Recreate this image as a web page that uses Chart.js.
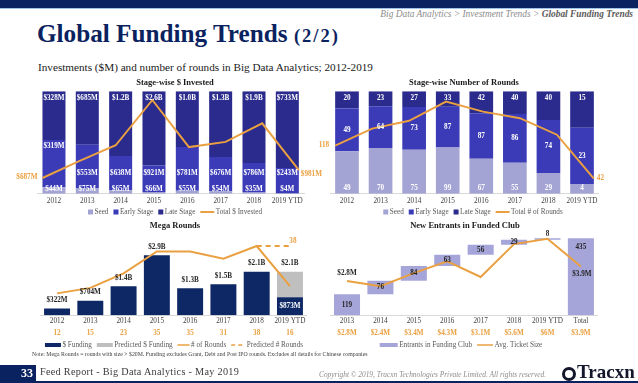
<!DOCTYPE html>
<html><head><meta charset="utf-8">
<script src="https://cdn.jsdelivr.net/npm/chart.js@4.4.1/dist/chart.umd.min.js"></script>
<style>
html,body{margin:0;padding:0;background:#fff;}
body{width:638px;height:383px;position:relative;overflow:hidden;font-family:"Liberation Serif","Times New Roman",serif;}
.abs{position:absolute;white-space:nowrap;}
canvas{position:absolute;}
</style></head><body>
<div class="abs" style="left:0;top:0;width:638px;height:7.5px;background:#0b2260"></div>
<div class="abs" style="left:0;top:7.5px;width:638px;height:1.5px;background:#9dc3e6"></div>
<div class="abs" style="right:5px;top:9px;font-size:9.4px;line-height:11px;font-style:italic;color:#8c8c8c">Big Data Analytics &gt; Investment Trends &gt; <b style="color:#5a5a5a">Global Funding Trends</b></div>
<div class="abs" style="left:37px;top:21px;font-size:25.2px;line-height:25px;font-weight:bold;color:#0b2260">Global Funding Trends <span style="font-size:18.5px;letter-spacing:2px">(2/2)</span></div>
<div class="abs" style="left:38px;top:61px;font-size:11.2px;line-height:13px;color:#1a1a1a">Investments ($M) and number of rounds in Big Data Analytics; 2012-2019</div>

<canvas id="c1" width="350" height="141" style="left:0;top:76px"></canvas>
<canvas id="c2" width="292" height="141" style="left:318px;top:76px"></canvas>
<canvas id="c3" width="350" height="133" style="left:0;top:219px"></canvas>
<canvas id="c4" width="294" height="133" style="left:318px;top:219px"></canvas>

<div class="abs" style="left:32px;top:351px;font-size:5.8px;line-height:7px;color:#404040">Note: Mega Rounds = rounds with size &gt; $20M. Funding excludes Grant, Debt and Post IPO rounds. Excludes all details for Chinese companies</div>

<div class="abs" style="left:0;top:365px;width:36px;height:18px;background:#0b2260"></div>
<div class="abs" style="left:0;top:366px;width:33px;height:15px;line-height:15px;text-align:right;color:#fff;font-weight:bold;font-size:12px">33</div>
<div class="abs" style="left:0;top:381px;width:638px;height:2px;background:#0b2260"></div>
<div class="abs" style="left:40px;top:365px;line-height:14px;font-size:10.2px;letter-spacing:0.3px;color:#3a3a3a">Feed Report - Big Data Analytics - May 2019</div>
<div class="abs" style="left:319px;top:370px;font-size:7.4px;line-height:9px;font-style:italic;color:#8c8c8c">Copyright © 2019, Tracxn Technologies Private Limited. All rights reserved.</div>
<div class="abs" style="left:562px;top:367px;width:8px;height:8px;border:3px solid #14172b;border-radius:50%"></div>
<div class="abs" style="left:577px;top:362px;font-size:19px;line-height:20px;font-weight:bold;color:#14172b">Tracxn</div>

<script>
// ---------- DATA ----------
const years = ['2012', '2013', '2014', '2015', '2016', '2017', '2018', '2019 YTD'];
// Stage-wise $ Invested ($M)
const seedInvested  = [44, 75, 65, 66, 55, 54, 35, 4];
const earlyInvested = [319, 553, 638, 921, 781, 676, 786, 243];
const lateInvested  = [328, 685, 1200, 2600, 1000, 1300, 1900, 733];
const totalInvested = [687, 1313, 1903, 3587, 1836, 2030, 2721, 981];
// Stage-wise Number of Rounds
const seedRounds  = [49, 70, 75, 99, 67, 55, 29, 4];
const earlyRounds = [49, 64, 73, 87, 87, 86, 74, 23];
const lateRounds  = [20, 23, 27, 33, 42, 40, 40, 15];
const totalRounds = [118, 157, 175, 219, 196, 181, 143, 42];
// Mega Rounds
const megaFunding      = [322, 704, 1400, 2900, 1300, 1500, 2100, 873];
const predictedFunding = [null, null, null, null, null, null, null, 2100];
const megaRounds       = [12, 15, 23, 35, 35, 31, 38, 16];
const predictedRounds  = [null, null, null, null, null, null, 38, 38];
// New Entrants in Funded Club
const entrantYears  = ['2013', '2014', '2015', '2016', '2017', '2018', '2019 YTD', 'Total'];
const newEntrants   = [119, 76, 84, 63, 56, 29, 8];
const avgTicketSize = [2.8, 2.4, 3.4, 4.3, 3.1, 5.6, 6, 3.9];

// ---------- STYLE ----------
const FONT = '"Liberation Serif", "Times New Roman", serif';
const C_SEED = '#a3a3d4', C_EARLY = '#3b3bb7', C_LATE = '#2b2b8d';
const C_ORANGE = '#eaa040', C_NAVY = '#0e2866', C_GREY = '#bfbfbf', C_LAV = '#a5a5da';
const C_TXT = '#262626';
Chart.defaults.font.family = FONT;
Chart.defaults.font.size = 7.2;
Chart.defaults.color = '#404040';
Chart.defaults.animation = false;
Chart.defaults.plugins.tooltip.enabled = false;
Chart.defaults.plugins.legend.display = false;

const fmtM = v => v >= 1000 ? '$' + (v / 1000).toFixed(1) + 'B' : '$' + v + 'M';

function sideAxis(pos, width, min, max, stacked) {
  return { type: 'linear', position: pos, min, max, stacked: !!stacked,
    ticks: { display: false }, grid: { display: false, drawTicks: false }, border: { display: false },
    afterFit(s) { s.width = width; } };
}
function catAxis(labels, padding, color, bold, weight, border, stacked) {
  return { type: 'category', labels, offset: true, stacked: !!stacked, weight: weight || 0,
    grid: { display: false, drawTicks: false },
    border: { display: border, color: '#d9d9d9', width: 1 },
    ticks: { padding, color, autoSkip: false, maxRotation: 0, font: { size: 7.2, weight: bold ? 'bold' : 'normal' } } };
}
// linear axis so the line spans from the first bar's left edge to the last bar's right edge
function edgeAxis(n, barPct) {
  const h = barPct / 2, range = (n - 1) * n / (n - 1 + 2 * h);
  const min = -(0.5 - h) * range / n;
  return { type: 'linear', display: false, offset: false, grid: { offset: false }, min, max: min + range };
}
function titleOpt(text, padBottom) {
  return { display: true, text, color: '#1a1a1a', font: { size: 8.5, weight: 'bold' }, padding: { top: 2, bottom: padBottom } };
}
// custom legend drawn into the canvas' reserved bottom strip
function legendPlugin(items, cx, cy) {
  return { id: 'customLegend', afterDraw(chart) {
    const ctx = chart.ctx; ctx.save();
    ctx.font = '7.2px ' + FONT; ctx.textBaseline = 'middle'; ctx.textAlign = 'left';
    const gapIcon = 1.5, gapItem = 5;
    const ws = items.map(it => it.w + gapIcon + ctx.measureText(it.text).width);
    let x = cx - (ws.reduce((a, b) => a + b, 0) + gapItem * (items.length - 1)) / 2;
    items.forEach((it, i) => {
      if (it.kind === 'box') { ctx.fillStyle = it.color; ctx.fillRect(x, cy - it.h / 2, it.w, it.h); }
      else {
        ctx.strokeStyle = it.color; ctx.lineWidth = it.h; ctx.setLineDash(it.dash || []);
        ctx.beginPath(); ctx.moveTo(x, cy); ctx.lineTo(x + it.w, cy); ctx.stroke(); ctx.setLineDash([]);
      }
      ctx.fillStyle = '#595959';
      ctx.fillText(it.text, x + it.w + gapIcon, cy + 0.5);
      x += ws[i] + gapItem;
    });
    ctx.restore();
  } };
}
const pctOf = (arr, a, b, c) => arr.map((v, i) => v / (a[i] + b[i] + c[i]) * 100);
function stageBar(label, data, color, bp) {
  return { label, data, backgroundColor: color, barPercentage: bp, categoryPercentage: 1, grouped: false, order: 2 };
}

// ---------- CHART 1 ----------
const BP1 = 0.69;
new Chart(document.getElementById('c1'), {
  type: 'bar',
  data: { labels: years, datasets: [
    stageBar('Seed', pctOf(seedInvested, seedInvested, earlyInvested, lateInvested), C_SEED, BP1),
    stageBar('Early Stage', pctOf(earlyInvested, seedInvested, earlyInvested, lateInvested), C_EARLY, BP1),
    stageBar('Late Stage', pctOf(lateInvested, seedInvested, earlyInvested, lateInvested), C_LATE, BP1),
    { type: 'line', label: 'Total $ Invested', data: totalInvested.map((v, i) => ({ x: i, y: v })), xAxisID: 'xl', yAxisID: 'y2',
      borderColor: C_ORANGE, borderWidth: 2, pointRadius: 0, tension: 0, order: 1 }
  ] },
  options: { responsive: false, devicePixelRatio: 1, layout: { padding: { bottom: 8.5 } },
    scales: { x: catAxis(years, 3, '#404040', false, 0, true, true), xl: edgeAxis(8, BP1),
      y: sideAxis('left', 37.3, 0, 100, true), y2: sideAxis('right', 46, 97, 3914) },
    plugins: { title: titleOpt('Stage-wise $ Invested', 3) } },
  plugins: [ { id: 'lbl1', afterDatasetsDraw(chart) {
      const ctx = chart.ctx, area = chart.chartArea; ctx.save();
      ctx.textAlign = 'center'; ctx.textBaseline = 'middle'; ctx.font = 'bold 7.2px ' + FONT; ctx.fillStyle = '#fff';
      [seedInvested, earlyInvested, lateInvested].forEach((arr, di) => {
        chart.getDatasetMeta(di).data.forEach((el, j) => {
          const top = Math.min(el.y, el.base), bot = Math.max(el.y, el.base);
          let y;
          if (di === 0) y = bot - 4.5;
          else if (di === 1) y = j === 0 ? top + 6 : area.bottom - 21;
          else y = top + 6.5;
          ctx.fillText(fmtM(arr[j]), el.x, y);
        });
      });
      const pts = chart.getDatasetMeta(3).data, n = pts.length - 1;
      ctx.fillStyle = C_ORANGE;
      ctx.textAlign = 'right'; ctx.fillText(fmtM(totalInvested[0]), pts[0].x - 5, pts[0].y - 1);
      ctx.textAlign = 'left'; ctx.fillText(fmtM(totalInvested[n]), pts[n].x + 2, pts[n].y + 4);
      ctx.restore();
    } },
    legendPlugin([
      { kind: 'box', color: C_SEED, w: 5, h: 5, text: 'Seed' },
      { kind: 'box', color: C_EARLY, w: 5, h: 5, text: 'Early Stage' },
      { kind: 'box', color: C_LATE, w: 5, h: 5, text: 'Late Stage' },
      { kind: 'line', color: C_ORANGE, w: 14, h: 2, text: 'Total $ Invested' }
    ], 175, 136) ]
});

// ---------- CHART 2 ----------
const BP2 = 0.705;
new Chart(document.getElementById('c2'), {
  type: 'bar',
  data: { labels: years, datasets: [
    stageBar('Seed', pctOf(seedRounds, seedRounds, earlyRounds, lateRounds), C_SEED, BP2),
    stageBar('Early Stage', pctOf(earlyRounds, seedRounds, earlyRounds, lateRounds), C_EARLY, BP2),
    stageBar('Late Stage', pctOf(lateRounds, seedRounds, earlyRounds, lateRounds), C_LATE, BP2),
    { type: 'line', label: 'Total # of Rounds', data: totalRounds.map((v, i) => ({ x: i, y: v })), xAxisID: 'xl', yAxisID: 'y2',
      borderColor: C_ORANGE, borderWidth: 2, pointRadius: 0, tension: 0, order: 1 }
  ] },
  options: { responsive: false, devicePixelRatio: 1, layout: { padding: { bottom: 8.5 } },
    scales: { x: catAxis(years, 3, '#404040', false, 0, true, true), xl: edgeAxis(8, BP2),
      y: sideAxis('left', 12.2, 0, 100, true), y2: sideAxis('right', 11.2, 7, 243) },
    plugins: { title: titleOpt('Stage-wise Number of Rounds', 3) } },
  plugins: [ { id: 'lbl2', afterDatasetsDraw(chart) {
      const ctx = chart.ctx; ctx.save();
      ctx.textAlign = 'center'; ctx.textBaseline = 'middle'; ctx.font = 'bold 7.2px ' + FONT; ctx.fillStyle = '#fff';
      [seedRounds, earlyRounds, lateRounds].forEach((arr, di) => {
        chart.getDatasetMeta(di).data.forEach((el, j) => {
          const top = Math.min(el.y, el.base), bot = Math.max(el.y, el.base);
          const y = di === 0 ? bot - 5.5 : di === 1 ? (top + bot) / 2 : top + 7;
          ctx.fillText(String(arr[j]), el.x, y);
        });
      });
      const pts = chart.getDatasetMeta(3).data, n = pts.length - 1;
      ctx.fillStyle = C_ORANGE;
      ctx.textAlign = 'right'; ctx.fillText(String(totalRounds[0]), pts[0].x - 6, pts[0].y);
      ctx.textAlign = 'left'; ctx.fillText(String(totalRounds[n]), pts[n].x + 3, pts[n].y);
      ctx.restore();
    } },
    legendPlugin([
      { kind: 'box', color: C_SEED, w: 5, h: 5, text: 'Seed' },
      { kind: 'box', color: C_EARLY, w: 5, h: 5, text: 'Early Stage' },
      { kind: 'box', color: C_LATE, w: 5, h: 5, text: 'Late Stage' },
      { kind: 'line', color: C_ORANGE, w: 14, h: 2, text: 'Total # of Rounds' }
    ], 155, 136) ]
});

// ---------- CHART 3 ----------
new Chart(document.getElementById('c3'), {
  type: 'bar',
  data: { labels: years, datasets: [
    { label: '$ Funding', data: megaFunding, backgroundColor: C_NAVY, barPercentage: 0.78, categoryPercentage: 1, order: 2 },
    { label: 'Predicted $ Funding', data: predictedFunding.map((v, i) => v == null ? null : v - megaFunding[i]), backgroundColor: C_GREY, barPercentage: 0.78, categoryPercentage: 1, order: 2 },
    { type: 'line', label: '# of Rounds', data: megaRounds, yAxisID: 'y2', borderColor: C_ORANGE, borderWidth: 2, pointRadius: 0, tension: 0, order: 1 },
    { type: 'line', label: 'Predicted # Rounds', data: predictedRounds, yAxisID: 'y2', borderColor: C_ORANGE, borderWidth: 2, borderDash: [5, 4], pointRadius: 0, tension: 0, order: 1 }
  ] },
  options: { responsive: false, devicePixelRatio: 1, layout: { padding: { bottom: 13.5 } },
    scales: { x: catAxis(years, 2, '#404040', false, 0, true, true),
      x2: catAxis(megaRounds.map(String), 1, C_ORANGE, true, 1, false),
      y: sideAxis('left', 40.4, 0, 3722, true), y2: sideAxis('right', 43.4, 0, 42.3) },
    plugins: { title: titleOpt('Mega Rounds', 7) } },
  plugins: [ { id: 'lbl3', afterDatasetsDraw(chart) {
      const ctx = chart.ctx; ctx.save();
      ctx.textAlign = 'center'; ctx.textBaseline = 'middle'; ctx.font = 'bold 7.2px ' + FONT;
      const navy = chart.getDatasetMeta(0).data, grey = chart.getDatasetMeta(1).data;
      navy.forEach((el, j) => {
        if (predictedFunding[j] != null) {
          ctx.fillStyle = '#fff'; ctx.fillText(fmtM(megaFunding[j]), el.x, (el.y + el.base) / 2);
          ctx.fillStyle = C_TXT; ctx.fillText(fmtM(predictedFunding[j]), el.x, grey[j].y - 8.5);
        } else {
          ctx.fillStyle = C_TXT; ctx.fillText(fmtM(megaFunding[j]), el.x, el.y - 8.5);
        }
      });
      const pp = chart.getDatasetMeta(3).data, n = pp.length - 1;
      ctx.fillStyle = C_ORANGE; ctx.fillText(String(predictedRounds[n]), pp[n].x + 3, pp[n].y - 4.5);
      ctx.restore();
    } },
    legendPlugin([
      { kind: 'box', color: C_NAVY, w: 16, h: 4, text: '$ Funding' },
      { kind: 'box', color: C_GREY, w: 16, h: 4, text: 'Predicted $ Funding' },
      { kind: 'line', color: C_ORANGE, w: 12, h: 1.5, text: '# of Rounds' },
      { kind: 'line', color: C_ORANGE, w: 14, h: 1.5, dash: [4, 3], text: 'Predicted # Rounds' }
    ], 174, 126) ]
});

// ---------- CHART 4 ----------
let cum = 0;
const waterfall = newEntrants.map(v => { const r = [cum, cum + v]; cum += v; return r; });
waterfall.push([0, cum]);
new Chart(document.getElementById('c4'), {
  type: 'bar',
  data: { labels: entrantYears, datasets: [
    { label: 'Entrants in Funding Club', data: waterfall, backgroundColor: C_LAV, barPercentage: 0.78, categoryPercentage: 1, order: 2 },
    { type: 'line', label: 'Avg. Ticket Size', data: avgTicketSize, yAxisID: 'y2', borderColor: C_ORANGE, borderWidth: 2, pointRadius: 0, tension: 0, order: 1 }
  ] },
  options: { responsive: false, devicePixelRatio: 1, layout: { padding: { bottom: 13.5 } },
    scales: { x: catAxis(entrantYears, 2, '#404040', false, 0, true),
      x2: catAxis(avgTicketSize.map(v => '$' + v + 'M'), 1, C_ORANGE, true, 1, false),
      y: sideAxis('left', 12.3, 0, 447), y2: sideAxis('right', 14.4, 0.2, 6.2) },
    plugins: { title: titleOpt('New Entrants in Funded Club', 5) } },
  plugins: [ { id: 'lbl4', afterDatasetsDraw(chart) {
      const ctx = chart.ctx; ctx.save();
      ctx.textAlign = 'center'; ctx.textBaseline = 'middle'; ctx.font = 'bold 7.2px ' + FONT; ctx.fillStyle = C_TXT;
      const bars = chart.getDatasetMeta(0).data, last = bars.length - 1;
      bars.forEach((el, j) => {
        const top = Math.min(el.y, el.base), bot = Math.max(el.y, el.base);
        if (j === last) ctx.fillText(String(cum), el.x, top + 8.5);
        else if (j === last - 1) ctx.fillText(String(newEntrants[j]), el.x, top - 4.5);
        else ctx.fillText(String(newEntrants[j]), el.x, (top + bot) / 2);
      });
      const pts = chart.getDatasetMeta(1).data, n = pts.length - 1;
      ctx.fillText('$' + avgTicketSize[0] + 'M', pts[0].x, pts[0].y - 8);
      ctx.fillText('$' + avgTicketSize[n] + 'M', pts[n].x + 1, pts[n].y + 8);
      ctx.restore();
    } },
    legendPlugin([
      { kind: 'box', color: C_LAV, w: 18, h: 4, text: 'Entrants in Funding Club' },
      { kind: 'line', color: C_ORANGE, w: 16, h: 1.5, text: 'Avg. Ticket Size' }
    ], 143, 126) ]
});
</script>
</body></html>
